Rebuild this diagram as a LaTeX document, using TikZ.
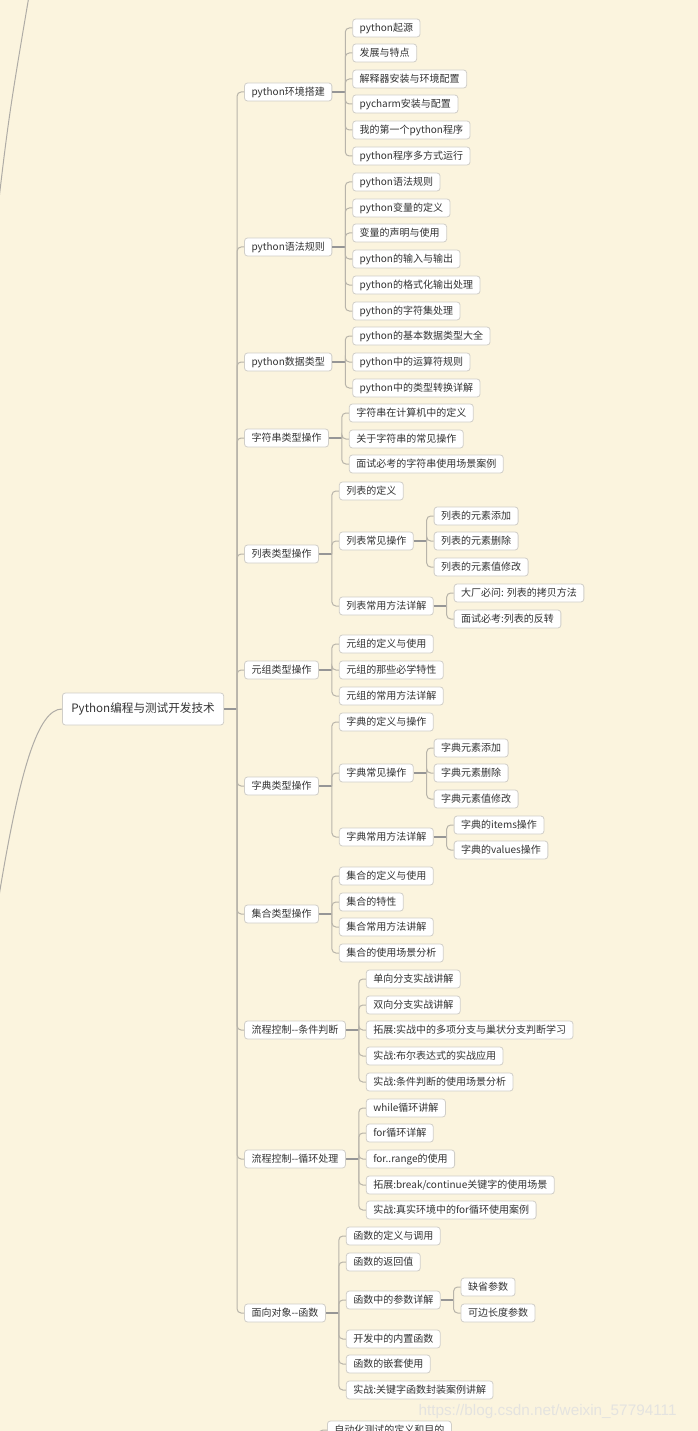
\documentclass[tikz,border=0pt]{standalone}
\usepackage{fontspec}
\setmainfont{Noto Sans CJK SC}
\newfontfamily\markfont{Liberation Sans}
\definecolor{paper}{RGB}{251,244,222}
\definecolor{ink}{RGB}{51,51,51}
\definecolor{rim}{RGB}{208,206,200}
\definecolor{wire}{RGB}{184,180,170}
\definecolor{stemgray}{RGB}{150,150,150}
\definecolor{curvegray}{RGB}{175,172,166}
\definecolor{markgray}{RGB}{228,227,224}
\tikzset{
  topic/.style={draw=rim, fill=white, rounded corners=3pt, text=ink,
    font=\fontsize{10}{12}\selectfont, inner xsep=7pt, inner ysep=0pt,
    minimum height=18pt, text height=8.5pt, text depth=1.5pt, line width=0.8pt},
  kid/.style={topic, anchor=west, xshift=20pt},
  stem/.style={draw=stemgray, line width=1.5pt},
  link/.style={draw=wire, line width=1pt, rounded corners=4pt},
  curve/.style={draw=curvegray, line width=1pt}
}
\begin{document}
\begin{tikzpicture}[x=1pt,y=-1pt]
\useasboundingbox (0,0) rectangle (698,1431);
\clip (0,0) rectangle (698,1431);
\fill[paper] (0,0) rectangle (698,1431);

\node[topic, anchor=west, font=\fontsize{11.6}{13}\selectfont, inner xsep=9pt, minimum height=32pt] (py) at (62,709) {Python编程与测试开发技术};

\node[kid] (env) at (py.east |- 0,92) {python环境搭建};
\node[kid] (syn) at (py.east |- 0,247) {python语法规则};
\node[kid] (typ) at (py.east |- 0,362) {python数据类型};
\node[kid] (str) at (py.east |- 0,438) {字符串类型操作};
\node[kid] (lst) at (py.east |- 0,554) {列表类型操作};
\node[kid] (tup) at (py.east |- 0,670) {元组类型操作};
\node[kid] (dic) at (py.east |- 0,786) {字典类型操作};
\node[kid] (sets) at (py.east |- 0,914) {集合类型操作};
\node[kid] (cond) at (py.east |- 0,1030) {流程控制-{}-条件判断};
\node[kid] (loop) at (py.east |- 0,1159) {流程控制-{}-循环处理};
\node[kid] (func) at (py.east |- 0,1313) {面向对象-{}-函数};

\node[kid] (env1) at (env.east |- 0,28) {python起源};
\node[kid] (env2) at (env.east |- 0,53) {发展与特点};
\node[kid] (env3) at (env.east |- 0,79) {解释器安装与环境配置};
\node[kid] (env4) at (env.east |- 0,104) {pycharm安装与配置};
\node[kid] (env5) at (env.east |- 0,130) {我的第一个python程序};
\node[kid] (env6) at (env.east |- 0,156) {python程序多方式运行};

\node[kid] (syn1) at (syn.east |- 0,182) {python语法规则};
\node[kid] (syn2) at (syn.east |- 0,208) {python变量的定义};
\node[kid] (syn3) at (syn.east |- 0,233) {变量的声明与使用};
\node[kid] (syn4) at (syn.east |- 0,259) {python的输入与输出};
\node[kid] (syn5) at (syn.east |- 0,285) {python的格式化输出处理};
\node[kid] (syn6) at (syn.east |- 0,311) {python的字符集处理};

\node[kid] (typ1) at (typ.east |- 0,336) {python的基本数据类型大全};
\node[kid] (typ2) at (typ.east |- 0,362) {python中的运算符规则};
\node[kid] (typ3) at (typ.east |- 0,388) {python中的类型转换详解};

\node[kid] (str1) at (str.east |- 0,413) {字符串在计算机中的定义};
\node[kid] (str2) at (str.east |- 0,439) {关于字符串的常见操作};
\node[kid] (str3) at (str.east |- 0,464) {面试必考的字符串使用场景案例};

\node[kid] (lst1) at (lst.east |- 0,491) {列表的定义};
\node[kid] (lst2) at (lst.east |- 0,541) {列表常见操作};
\node[kid] (lst3) at (lst.east |- 0,606) {列表常用方法详解};
\node[kid] (lst21) at (lst2.east |- 0,516) {列表的元素添加};
\node[kid] (lst22) at (lst2.east |- 0,541) {列表的元素删除};
\node[kid] (lst23) at (lst2.east |- 0,567) {列表的元素值修改};
\node[kid] (lst31) at (lst3.east |- 0,593) {大厂必问: 列表的拷贝方法};
\node[kid] (lst32) at (lst3.east |- 0,619) {面试必考:列表的反转};

\node[kid] (tup1) at (tup.east |- 0,644) {元组的定义与使用};
\node[kid] (tup2) at (tup.east |- 0,670) {元组的那些必学特性};
\node[kid] (tup3) at (tup.east |- 0,696) {元组的常用方法详解};

\node[kid] (dic1) at (dic.east |- 0,722) {字典的定义与操作};
\node[kid] (dic2) at (dic.east |- 0,773) {字典常见操作};
\node[kid] (dic3) at (dic.east |- 0,837) {字典常用方法详解};
\node[kid] (dic21) at (dic2.east |- 0,748) {字典元素添加};
\node[kid] (dic22) at (dic2.east |- 0,773) {字典元素删除};
\node[kid] (dic23) at (dic2.east |- 0,799) {字典元素值修改};
\node[kid] (dic31) at (dic3.east |- 0,825) {字典的items操作};
\node[kid] (dic32) at (dic3.east |- 0,850) {字典的values操作};

\node[kid] (sets1) at (sets.east |- 0,876) {集合的定义与使用};
\node[kid] (sets2) at (sets.east |- 0,902) {集合的特性};
\node[kid] (sets3) at (sets.east |- 0,927) {集合常用方法讲解};
\node[kid] (sets4) at (sets.east |- 0,953) {集合的使用场景分析};

\node[kid] (cond1) at (cond.east |- 0,979) {单向分支实战讲解};
\node[kid] (cond2) at (cond.east |- 0,1005) {双向分支实战讲解};
\node[kid] (cond3) at (cond.east |- 0,1030) {拓展:实战中的多项分支与巢状分支判断学习};
\node[kid] (cond4) at (cond.east |- 0,1056) {实战:布尔表达式的实战应用};
\node[kid] (cond5) at (cond.east |- 0,1082) {实战:条件判断的使用场景分析};

\node[kid] (loop1) at (loop.east |- 0,1108) {while循环讲解};
\node[kid] (loop2) at (loop.east |- 0,1133) {for循环详解};
\node[kid] (loop3) at (loop.east |- 0,1159) {for..range的使用};
\node[kid] (loop4) at (loop.east |- 0,1185) {拓展:break/continue关键字的使用场景};
\node[kid] (loop5) at (loop.east |- 0,1210) {实战:真实环境中的for循环使用案例};

\node[kid] (func1) at (func.east |- 0,1236) {函数的定义与调用};
\node[kid] (func2) at (func.east |- 0,1262) {函数的返回值};
\node[kid] (func3) at (func.east |- 0,1300) {函数中的参数详解};
\node[kid] (func4) at (func.east |- 0,1339) {开发中的内置函数};
\node[kid] (func5) at (func.east |- 0,1364) {函数的嵌套使用};
\node[kid] (func6) at (func.east |- 0,1390) {实战:关键字函数封装案例讲解};
\node[kid] (func31) at (func3.east |- 0,1287) {缺省参数};
\node[kid] (func32) at (func3.east |- 0,1313) {可边长度参数};

\node[topic, anchor=west] (auto) at (327,1430) {自动化测试的定义和目的};
\coordinate (autobase) at (319,1450);
\draw[link] (autobase) |- (auto.west);

\coordinate (lowend) at (-6,930);
\coordinate (upend) at (30,-10);
\coordinate (upbase) at (-8,260);
\draw[curve] (py.west) .. controls (38,709) and (20,770) .. (0,890) -- (lowend);
\draw[curve] (upbase) .. controls (8,120) .. (upend);

\node[anchor=west, font=\markfont\fontsize{15.3}{18}\selectfont, text=markgray] (mark) at (415,1412) {https://blog.csdn.net/weixin\_57794111};

\draw[stem] (py.east) -- ++(13,0);
\draw[link] ([xshift=13pt]py.east) |- (env.west);
\draw[link] ([xshift=13pt]py.east) |- (syn.west);
\draw[link] ([xshift=13pt]py.east) |- (typ.west);
\draw[link] ([xshift=13pt]py.east) |- (str.west);
\draw[link] ([xshift=13pt]py.east) |- (lst.west);
\draw[link] ([xshift=13pt]py.east) |- (tup.west);
\draw[link] ([xshift=13pt]py.east) |- (dic.west);
\draw[link] ([xshift=13pt]py.east) |- (sets.west);
\draw[link] ([xshift=13pt]py.east) |- (cond.west);
\draw[link] ([xshift=13pt]py.east) |- (loop.west);
\draw[link] ([xshift=13pt]py.east) |- (func.west);

\draw[stem] (env.east) -- ++(13,0);
\draw[link] ([xshift=13pt]env.east) |- (env1.west);
\draw[link] ([xshift=13pt]env.east) |- (env2.west);
\draw[link] ([xshift=13pt]env.east) |- (env3.west);
\draw[link] ([xshift=13pt]env.east) |- (env4.west);
\draw[link] ([xshift=13pt]env.east) |- (env5.west);
\draw[link] ([xshift=13pt]env.east) |- (env6.west);

\draw[stem] (syn.east) -- ++(13,0);
\draw[link] ([xshift=13pt]syn.east) |- (syn1.west);
\draw[link] ([xshift=13pt]syn.east) |- (syn2.west);
\draw[link] ([xshift=13pt]syn.east) |- (syn3.west);
\draw[link] ([xshift=13pt]syn.east) |- (syn4.west);
\draw[link] ([xshift=13pt]syn.east) |- (syn5.west);
\draw[link] ([xshift=13pt]syn.east) |- (syn6.west);

\draw[stem] (typ.east) -- ++(13,0);
\draw[link] ([xshift=13pt]typ.east) |- (typ1.west);
\draw[link] ([xshift=13pt]typ.east) |- (typ2.west);
\draw[link] ([xshift=13pt]typ.east) |- (typ3.west);

\draw[stem] (str.east) -- ++(13,0);
\draw[link] ([xshift=13pt]str.east) |- (str1.west);
\draw[link] ([xshift=13pt]str.east) |- (str2.west);
\draw[link] ([xshift=13pt]str.east) |- (str3.west);

\draw[stem] (lst.east) -- ++(13,0);
\draw[link] ([xshift=13pt]lst.east) |- (lst1.west);
\draw[link] ([xshift=13pt]lst.east) |- (lst2.west);
\draw[link] ([xshift=13pt]lst.east) |- (lst3.west);
\draw[stem] (lst2.east) -- ++(13,0);
\draw[link] ([xshift=13pt]lst2.east) |- (lst21.west);
\draw[link] ([xshift=13pt]lst2.east) |- (lst22.west);
\draw[link] ([xshift=13pt]lst2.east) |- (lst23.west);
\draw[stem] (lst3.east) -- ++(13,0);
\draw[link] ([xshift=13pt]lst3.east) |- (lst31.west);
\draw[link] ([xshift=13pt]lst3.east) |- (lst32.west);

\draw[stem] (tup.east) -- ++(13,0);
\draw[link] ([xshift=13pt]tup.east) |- (tup1.west);
\draw[link] ([xshift=13pt]tup.east) |- (tup2.west);
\draw[link] ([xshift=13pt]tup.east) |- (tup3.west);

\draw[stem] (dic.east) -- ++(13,0);
\draw[link] ([xshift=13pt]dic.east) |- (dic1.west);
\draw[link] ([xshift=13pt]dic.east) |- (dic2.west);
\draw[link] ([xshift=13pt]dic.east) |- (dic3.west);
\draw[stem] (dic2.east) -- ++(13,0);
\draw[link] ([xshift=13pt]dic2.east) |- (dic21.west);
\draw[link] ([xshift=13pt]dic2.east) |- (dic22.west);
\draw[link] ([xshift=13pt]dic2.east) |- (dic23.west);
\draw[stem] (dic3.east) -- ++(13,0);
\draw[link] ([xshift=13pt]dic3.east) |- (dic31.west);
\draw[link] ([xshift=13pt]dic3.east) |- (dic32.west);

\draw[stem] (sets.east) -- ++(13,0);
\draw[link] ([xshift=13pt]sets.east) |- (sets1.west);
\draw[link] ([xshift=13pt]sets.east) |- (sets2.west);
\draw[link] ([xshift=13pt]sets.east) |- (sets3.west);
\draw[link] ([xshift=13pt]sets.east) |- (sets4.west);

\draw[stem] (cond.east) -- ++(13,0);
\draw[link] ([xshift=13pt]cond.east) |- (cond1.west);
\draw[link] ([xshift=13pt]cond.east) |- (cond2.west);
\draw[link] ([xshift=13pt]cond.east) |- (cond3.west);
\draw[link] ([xshift=13pt]cond.east) |- (cond4.west);
\draw[link] ([xshift=13pt]cond.east) |- (cond5.west);

\draw[stem] (loop.east) -- ++(13,0);
\draw[link] ([xshift=13pt]loop.east) |- (loop1.west);
\draw[link] ([xshift=13pt]loop.east) |- (loop2.west);
\draw[link] ([xshift=13pt]loop.east) |- (loop3.west);
\draw[link] ([xshift=13pt]loop.east) |- (loop4.west);
\draw[link] ([xshift=13pt]loop.east) |- (loop5.west);

\draw[stem] (func.east) -- ++(13,0);
\draw[link] ([xshift=13pt]func.east) |- (func1.west);
\draw[link] ([xshift=13pt]func.east) |- (func2.west);
\draw[link] ([xshift=13pt]func.east) |- (func3.west);
\draw[link] ([xshift=13pt]func.east) |- (func4.west);
\draw[link] ([xshift=13pt]func.east) |- (func5.west);
\draw[link] ([xshift=13pt]func.east) |- (func6.west);
\draw[stem] (func3.east) -- ++(13,0);
\draw[link] ([xshift=13pt]func3.east) |- (func31.west);
\draw[link] ([xshift=13pt]func3.east) |- (func32.west);
\end{tikzpicture}
\end{document}
